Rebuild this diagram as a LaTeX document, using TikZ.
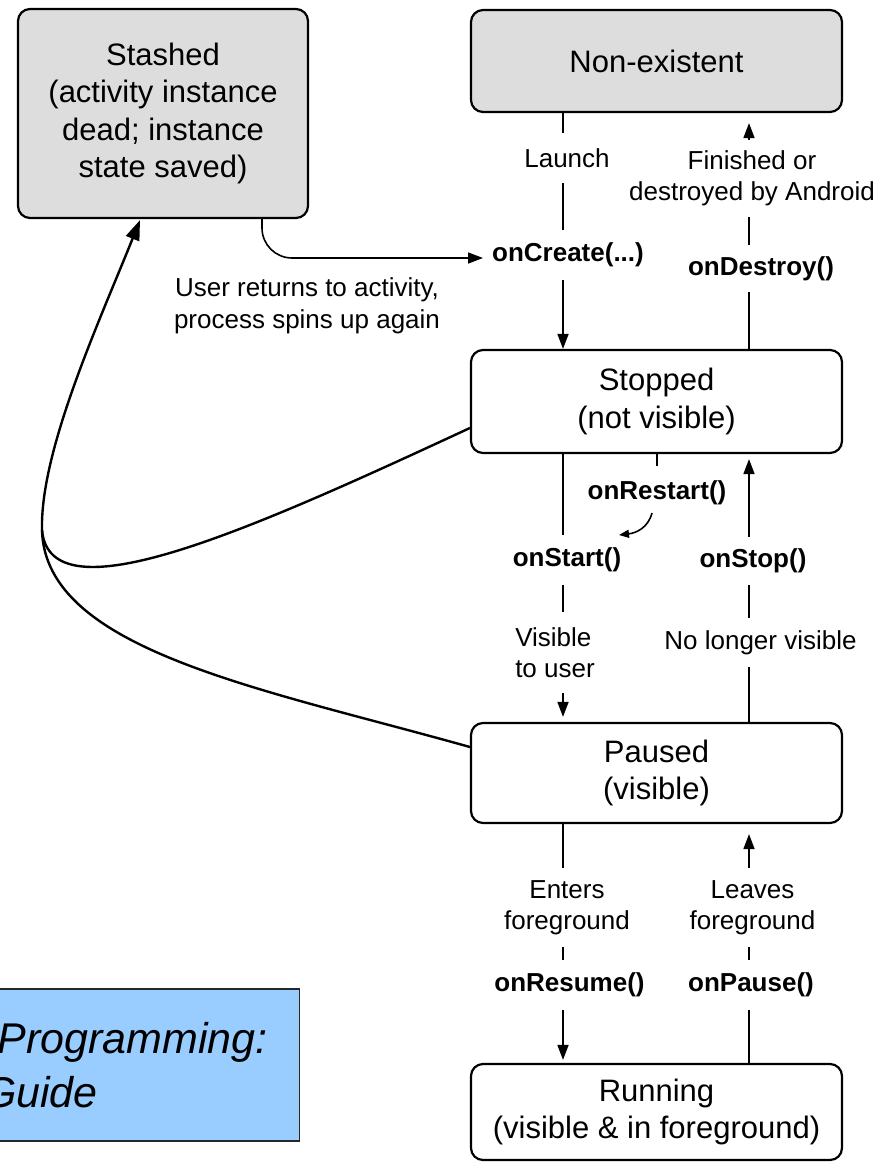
\documentclass[tikz,border=0pt]{standalone}
\usepackage{fontspec}
\setmainfont{Liberation Sans}
\usetikzlibrary{arrows.meta,calc}
\definecolor{boxgray}{RGB}{221,221,221}
\definecolor{bookblue}{RGB}{153,204,255}
\newcommand\boxfnt{\fontsize{31}{37.5}\selectfont}
\newcommand\lblfnt{\fontsize{26}{31.5}\selectfont}
\newcommand\mthfnt{\fontsize{26}{31.5}\selectfont\bfseries}
\newcommand\bookfnt{\fontsize{43}{54}\selectfont\itshape}
\begin{document}
\begin{tikzpicture}[x=1pt,y=-1pt,
  state/.style={draw, rounded corners=12pt, line width=2.2pt, align=center, font=\boxfnt, inner sep=0pt, minimum width=371pt},
  ghost/.style={state, fill=boxgray},
  lbl/.style={fill=white, inner xsep=2pt, inner ysep=0pt, align=center, font=\lblfnt},
  mth/.style={lbl, font=\mthfnt},
  conn/.style={line width=1.6pt},
  arr/.style={conn, -{Triangle[length=15pt,width=11pt]}},
  curve/.style={line width=2.4pt},
]
\useasboundingbox (0,0) rectangle (882,1164);
\clip (0,0) rectangle (882,1164);

% states
\node[ghost, minimum width=290pt, minimum height=209pt] (stashed) at (163,113.5) {Stashed\\(activity instance\\dead; instance\\state saved)};
\node[ghost, minimum height=102pt] (nonex) at (656.5,61) {Non-existent};
\node[state, minimum height=103pt] (stopped) at (656.5,401.5) {Stopped\\(not visible)};
\node[state, minimum height=100pt] (paused) at (656.5,773) {Paused\\(visible)};
\node[state, minimum height=96pt] (running) at (656.5,1112) {Running\\(visible \& in foreground)};

% columns
\coordinate (cL) at (563,0);
\coordinate (cR) at (749,0);

% vertical connectors
\draw[arr] (nonex.south -| cL) -- (stopped.north -| cL);
\draw[arr, shorten >=10pt] (stopped.north -| cR) -- (nonex.south -| cR);
\draw[arr, shorten >=5pt] (stopped.south -| cL) -- (paused.north -| cL);
\draw[arr, shorten >=5pt] (paused.north -| cR) -- (stopped.south -| cR);
\draw[arr, shorten >=3pt] (paused.south -| cL) -- (running.north -| cL);
\draw[arr, shorten >=10pt] (running.north -| cR) -- (paused.south -| cR);

% labels on connectors
\node[lbl, minimum height=50pt] (launch) at (567,158) {Launch};
\node[mth, minimum height=50pt] (create) at (568,255) {onCreate(...)};
\node[lbl, minimum height=77pt] (finished) at (752,178.5) {Finished or\\destroyed by Android};
\node[mth, minimum height=47pt] (destroy) at (761,268.5) {onDestroy()};
\node[mth] (restart) at (657,493) {onRestart()};
\node[mth, minimum height=50pt] (start) at (567,560) {onStart()};
\node[lbl, align=left, minimum height=81pt] (visible) at (555,652.5) {Visible\\to user};
\node[mth, minimum height=48pt] (stop) at (753,561) {onStop()};
\node[lbl, minimum height=49pt] (nolonger) at (760.5,642.5) {No longer visible};
\node[lbl, minimum height=79pt] (enters) at (567,907.5) {Enters\\foreground};
\node[mth, minimum height=50pt] (resume) at (569.5,985) {onResume()};
\node[lbl, minimum height=79pt] (leaves) at (752.5,907.5) {Leaves\\foreground};
\node[mth, minimum height=50pt] (pause) at (751,985) {onPause()};

% onRestart tick and small arrow
\draw[conn] (stopped.south -| restart) -- ++(0,12);
\coordinate (ra) at (652,513);
\coordinate (rb) at (619,535);
\draw[conn, -{Triangle[length=10pt,width=8pt]}] (ra) .. controls (648,528) and (636,533) .. (rb);

% user returns
\coordinate (retx) at (262,0);
\coordinate (ret) at (483,258);
\draw[arr, rounded corners=30pt] (stashed.south -| retx) |- (ret);
\node[lbl, fill=none] (userret) at (307,306) {User returns to activity,\\process spins up again};

% big curves to Stashed
\coordinate (merge) at (42,530);
\draw[curve, -{Triangle[length=20pt,width=14pt]}] ($(paused.west)+(0,-26)$) .. controls (260,688) and (45,650) .. (merge) .. controls (40,450) and (100,320) .. ($(stashed.south)+(-23,1)$);
\draw[curve] ($(stopped.west)+(0,26.5)$) .. controls (250,530) and (50,620) .. (merge);

% book box
\node[draw=black!85, line width=1.5pt, fill=bookblue, minimum width=500pt, minimum height=152pt, anchor=north east, inner sep=0pt] (book) at (300,988) {};
\node[font=\bookfnt, anchor=base east, inner sep=0pt] (bookA) at (268,1053) {Programming:};
\node[font=\bookfnt, anchor=base east, inner sep=0pt] (bookB) at (98,1107) {Guide};
\end{tikzpicture}
\end{document}
